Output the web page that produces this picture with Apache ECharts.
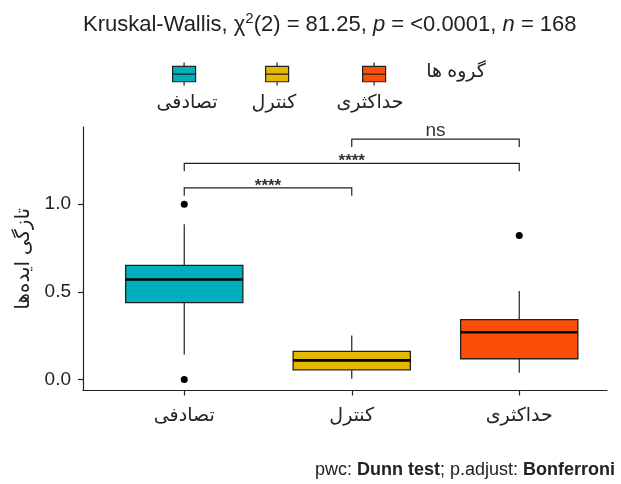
<!DOCTYPE html>
<html>
<head>
<meta charset="utf-8">
<script src="https://cdn.jsdelivr.net/npm/echarts@6/dist/echarts.min.js"></script>
<style>
  html, body { margin: 0; padding: 0; background: #fff; }
  #chart { width: 621px; height: 484px; }
</style>
</head>
<body>
<div id="chart"></div>
<script>
// groups and colours
var groups = ['تصادفی', 'کنترل', 'حداکثری'];
var groupColors = ['#00AFBB', '#E7B800', '#FC4E07'];
// whisker low, Q1, median, Q3, whisker high
var boxStats = [
    [0.143, 0.438, 0.570, 0.651, 0.886],
    [0.004, 0.055, 0.109, 0.160, 0.251],
    [0.038, 0.118, 0.269, 0.341, 0.505]
];
// outliers: [group index, value]
var outliers = [[0, 1.0], [0, 0.0], [2, 0.821]];
var yTicks = [0, 0.5, 1.0];
// pairwise comparison brackets
var bracketFrom = [0, 0, 1];
var bracketTo = [1, 2, 2];
var bracketY = [1.093, 1.233, 1.371];
var bracketLabels = ['****', '****', 'ns'];

var FONT = "'Liberation Sans', 'DejaVu Sans', Arial, sans-serif";
var INK = '#222';

var chart = echarts.init(document.getElementById('chart'));

function renderBox(params, api) {
    var i = api.value(0);
    var lo = api.coord([i, api.value(1)]);
    var q1 = api.coord([i, api.value(2)]);
    var med = api.coord([i, api.value(3)]);
    var q3 = api.coord([i, api.value(4)]);
    var hi = api.coord([i, api.value(5)]);
    var bw = api.size([1, 0])[0] * 0.7;
    var x = lo[0];
    var line = { stroke: INK, lineWidth: 1.2 };
    return {
        type: 'group',
        children: [
            { type: 'line', shape: { x1: x, y1: hi[1], x2: x, y2: q3[1] }, style: line },
            { type: 'line', shape: { x1: x, y1: q1[1], x2: x, y2: lo[1] }, style: line },
            { type: 'rect', shape: { x: x - bw / 2, y: q3[1], width: bw, height: q1[1] - q3[1] },
              style: { fill: groupColors[i], stroke: INK, lineWidth: 1.3 } },
            { type: 'line', shape: { x1: x - bw / 2, y1: med[1], x2: x + bw / 2, y2: med[1] },
              style: { stroke: '#000', lineWidth: 2.6 } }
        ]
    };
}

function renderBracket(params, api) {
    var a = api.coord([api.value(0), api.value(2)]);
    var b = api.coord([api.value(1), api.value(2)]);
    var drop = 8;
    var label = bracketLabels[params.dataIndex];
    var isStars = label.indexOf('*') >= 0;
    return {
        type: 'group',
        children: [
            { type: 'polyline',
              shape: { points: [[a[0], a[1] + drop], [a[0], a[1]], [b[0], b[1]], [b[0], b[1] + drop]] },
              style: { stroke: INK, lineWidth: 1.2, fill: null } },
            { type: 'text',
              style: { text: label, x: (a[0] + b[0]) / 2, y: isStars ? a[1] + 7 : a[1] + 1,
                       align: 'center', verticalAlign: 'bottom',
                       font: (isStars ? 'bold 17px ' : '19px ') + FONT, fill: '#333' } }
        ]
    };
}

var legendIcon = 'path://M12,0V4M0,4H24V20H0ZM0,12H24M12,20V24';
var legendLefts = [172, 265, 362];
var legendLabelX = [187, 274, 370];

var option = {
    animation: false,
    backgroundColor: '#fff',
    textStyle: { fontFamily: FONT },
    title: [{
        text: 'Kruskal-Wallis, {t|χ}{sup|2}{t|(2) = 81.25, }{i|p}{t| = <0.0001, }{i|n}{t| = 168}',
        left: 83, top: 11, padding: 0,
        textStyle: {
            fontFamily: FONT, fontSize: 22, fontWeight: 'normal', color: INK,
            rich: {
                t: { fontFamily: FONT, fontSize: 22, color: INK },
                i: { fontFamily: FONT, fontSize: 22, fontStyle: 'italic', color: INK },
                sup: { fontFamily: FONT, fontSize: 15, color: INK, verticalAlign: 'top', padding: [0, 0, 12, 0] }
            }
        }
    }, {
        text: 'pwc: {b|Dunn test}; p.adjust: {b|Bonferroni}',
        right: 6, top: 461, padding: 0,
        textStyle: {
            fontFamily: FONT, fontSize: 18, fontWeight: 'normal', color: INK,
            rich: { b: { fontFamily: FONT, fontSize: 18, fontWeight: 'bold', color: INK } }
        }
    }],
    legend: groups.map(function (g, i) {
        return {
            data: [g], left: legendLefts[i], top: 62, padding: 0,
            icon: legendIcon, itemWidth: 23, itemHeight: 24,
            itemStyle: { borderColor: INK, borderWidth: 1.2, opacity: 1 },
            formatter: function () { return ''; },
            selectedMode: false
        };
    }),
    graphic: groups.map(function (g, i) {
        return { type: 'text', x: legendLabelX[i], y: 103,
                 style: { text: g, font: '19px ' + FONT, fill: INK, align: 'center', verticalAlign: 'middle' } };
    }).concat([{ type: 'text', x: 456, y: 72,
                 style: { text: 'گروه ها', font: '19px ' + FONT, fill: INK, align: 'center', verticalAlign: 'middle' } }]),
    grid: [
        { left: 83, right: 14, top: 127, bottom: 93.5 },
        { left: 100.5, right: 18, top: 127, bottom: 93.5 }
    ],
    xAxis: [{
        type: 'value', gridIndex: 0, min: 0, max: 1,
        axisLine: { show: true, onZero: false, lineStyle: { color: INK, width: 1.2 } },
        axisTick: { show: false }, axisLabel: { show: false }, splitLine: { show: false }
    }, {
        type: 'category', gridIndex: 1, data: groups,
        axisLine: { show: false, onZero: false },
        axisTick: { show: true, alignWithLabel: true, length: 5, lineStyle: { color: INK, width: 1.2 } },
        axisLabel: { fontFamily: FONT, fontSize: 19, color: INK, margin: 16 },
        splitLine: { show: false }
    }],
    yAxis: [{
        type: 'value', gridIndex: 0, min: -0.063, max: 1.44,
        name: 'تازگی ایده‌ها', nameLocation: 'middle', nameRotate: 90, nameGap: 50,
        nameTextStyle: { fontFamily: FONT, fontSize: 20, color: INK },
        axisLine: { show: true, onZero: false, lineStyle: { color: INK, width: 1.2 } },
        axisTick: { show: true, length: 5, customValues: yTicks, lineStyle: { color: INK, width: 1.2 } },
        axisLabel: { customValues: yTicks, fontFamily: FONT, fontSize: 19, color: INK, margin: 12,
                     formatter: function (v) { return v.toFixed(1); } },
        splitLine: { show: false }
    }, {
        type: 'value', gridIndex: 1, min: -0.063, max: 1.44, show: false
    }],
    series: [{
        type: 'custom', xAxisIndex: 1, yAxisIndex: 1,
        renderItem: renderBox,
        encode: { x: 0, y: [1, 2, 3, 4, 5] },
        data: boxStats.map(function (s, i) { return [i].concat(s); }),
        z: 2
    }, {
        type: 'scatter', xAxisIndex: 1, yAxisIndex: 1,
        symbolSize: 7, itemStyle: { color: '#000', opacity: 1 },
        data: outliers, z: 3
    }, {
        type: 'custom', xAxisIndex: 1, yAxisIndex: 1,
        renderItem: renderBracket,
        encode: { x: [0, 1], y: 2 },
        data: bracketY.map(function (y, i) { return [bracketFrom[i], bracketTo[i], y]; }),
        clip: false, z: 4
    }].concat(groups.map(function (g, i) {
        return { type: 'scatter', name: g, xAxisIndex: 1, yAxisIndex: 1,
                 itemStyle: { color: groupColors[i], opacity: 1 }, data: [] };
    }))
};

chart.setOption(option);
</script>
</body>
</html>
